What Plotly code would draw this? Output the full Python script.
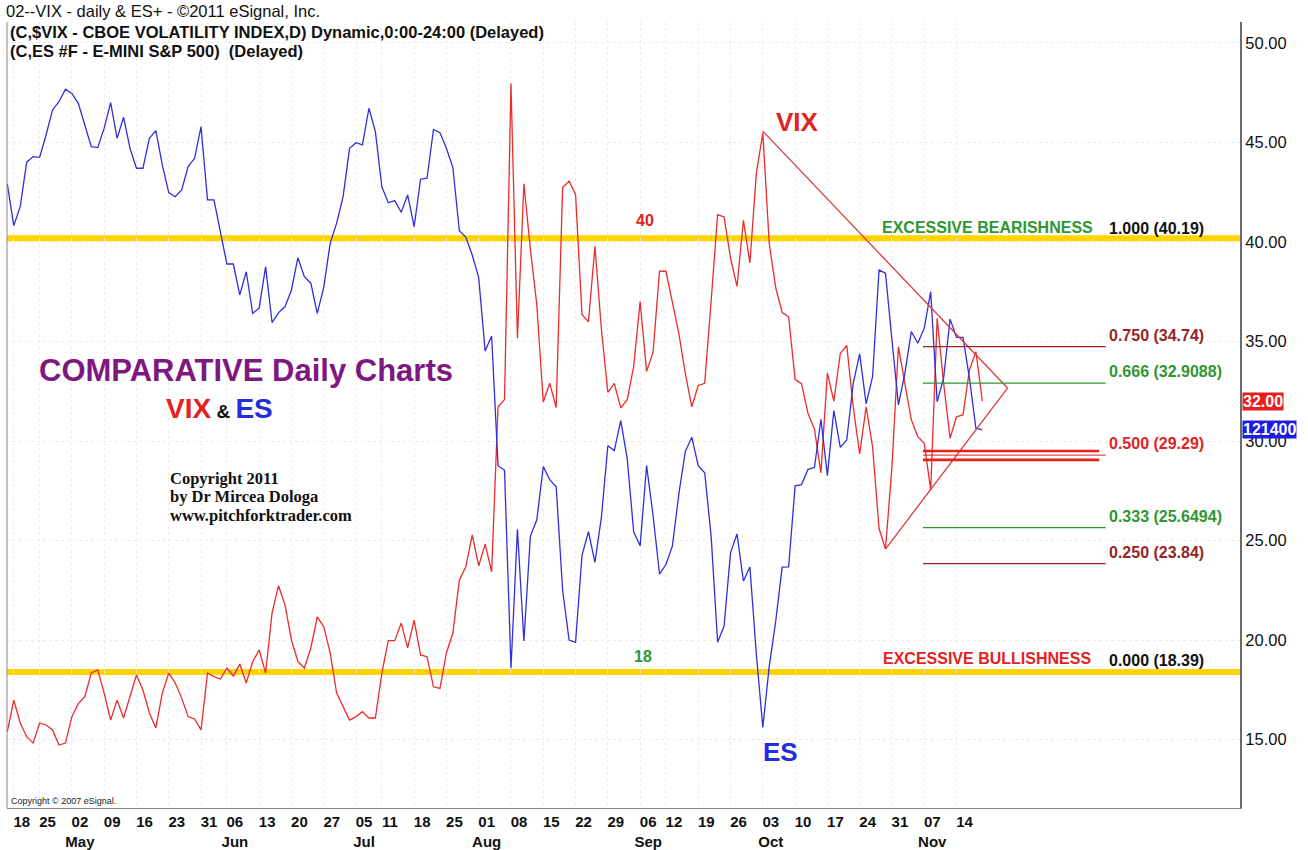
import pandas as pd
import plotly.graph_objects as go

# ---------------- data ----------------
holidays = ["2011-04-22", "2011-05-30", "2011-07-04", "2011-09-05"]
dates = [d.strftime("%Y-%m-%d") for d in pd.bdate_range("2011-04-15", "2011-11-18")
         if d.strftime("%Y-%m-%d") not in holidays]

vix = [15.39, 16.98, 15.83, 15.14, 14.82, 15.83, 15.73, 15.48, 14.72, 14.82,
       16.15, 16.80, 17.15, 18.34, 18.50, 17.33, 15.98, 16.98, 16.08, 17.15,
       18.24, 17.49, 16.33, 15.58, 17.33, 18.34, 17.84, 17.08, 16.15, 16.03,
       15.48, 18.34, 18.16, 18.04, 18.59, 18.19, 18.79, 17.84, 18.91, 19.50,
       18.34, 21.36, 22.73, 21.76, 20.00, 18.91, 18.59, 19.60, 21.16, 20.67,
       19.35, 17.33, 16.65, 15.98, 16.15, 16.40, 16.08, 16.08, 18.34, 19.97,
       19.97, 20.85, 19.60, 21.00, 19.25, 19.16, 17.65, 17.57, 19.35, 20.35,
       23.00, 23.68, 25.28, 23.73, 24.82, 23.43, 31.72, 32.08, 47.96, 35.16,
       42.93, 39.66, 36.83, 31.96, 32.90, 31.68, 42.74, 43.06, 42.39, 36.35,
       35.99, 39.78, 35.63, 32.44, 32.90, 31.66, 32.08, 33.74, 37.01, 33.50,
       34.45, 38.53, 38.53, 36.93, 35.40, 33.38, 31.72, 32.79, 32.90, 37.05,
       41.37, 41.26, 39.19, 37.77, 41.09, 38.95, 43.46, 45.47, 39.90, 37.70,
       36.45, 36.24, 33.10, 32.87, 31.38, 30.60, 28.40, 33.42, 32.00, 34.40,
       34.80, 31.72, 29.35, 31.72, 29.70, 25.60, 24.57, 28.71, 34.74, 32.90,
       31.06, 30.22, 29.89, 27.54, 36.17, 32.90, 30.14, 31.22, 31.31, 33.57,
       34.49, 32.00]

es = [1315.2, 1298.1, 1305.9, 1324.2, 1326.5, 1326.2, 1335.4, 1345.7, 1349.1, 1354.2,
      1352.5, 1348.4, 1339.5, 1330.6, 1330.2, 1338.2, 1348.7, 1334.0, 1342.7, 1329.9,
      1321.7, 1321.7, 1334.0, 1337.2, 1323.1, 1311.7, 1310.0, 1312.8, 1322.4, 1325.8,
      1338.8, 1308.7, 1308.7, 1295.0, 1282.3, 1282.3, 1269.6, 1279.1, 1262.0, 1264.1,
      1281.2, 1258.2, 1262.3, 1264.7, 1271.6, 1284.9, 1277.1, 1274.4, 1262.0, 1272.7,
      1290.8, 1299.1, 1310.0, 1329.9, 1332.2, 1331.3, 1346.4, 1336.8, 1314.1, 1307.5,
      1308.4, 1303.6, 1310.7, 1297.7, 1317.2, 1317.6, 1337.7, 1336.3, 1329.9, 1322.0,
      1296.0, 1293.4, 1286.0, 1276.7, 1246.5, 1252.7, 1199.3, 1197.4, 1115.9, 1173.1,
      1127.2, 1170.2, 1177.0, 1198.9, 1193.5, 1190.6, 1147.9, 1127.5, 1126.6, 1162.4,
      1172.1, 1159.5, 1178.0, 1207.5, 1205.5, 1217.8, 1202.2, 1172.1, 1166.3, 1199.3,
      1178.9, 1154.7, 1158.6, 1166.3, 1187.7, 1205.2, 1211.0, 1199.3, 1196.4, 1170.2,
      1126.6, 1133.3, 1163.4, 1171.2, 1151.8, 1157.6, 1121.7, 1091.6, 1116.8, 1135.3,
      1157.5, 1157.6, 1191.0, 1191.5, 1197.8, 1198.5, 1218.4, 1195.2, 1222.0, 1206.8,
      1209.9, 1233.2, 1245.3, 1224.7, 1235.9, 1279.8, 1278.5, 1251.0, 1224.3, 1237.3,
      1254.5, 1249.7, 1255.9, 1270.9, 1225.6, 1235.3, 1259.6, 1252.1, 1252.1, 1235.3,
      1214.7, 1214.0]

assert len(dates) == len(vix) == len(es)

tick_dates = ["2011-04-18", "2011-04-25", "2011-05-02", "2011-05-09", "2011-05-16",
              "2011-05-23", "2011-05-31", "2011-06-06", "2011-06-13", "2011-06-20",
              "2011-06-27", "2011-07-05", "2011-07-11", "2011-07-18", "2011-07-25",
              "2011-08-01", "2011-08-08", "2011-08-15", "2011-08-22", "2011-08-29",
              "2011-09-06", "2011-09-12", "2011-09-19", "2011-09-26", "2011-10-03",
              "2011-10-10", "2011-10-17", "2011-10-24", "2011-10-31", "2011-11-07",
              "2011-11-14"]
tick_labels = ["18", "25", "02<br>May", "09", "16", "23", "31", "06<br>Jun", "13", "20",
               "27", "05<br>Jul", "11", "18", "25", "01<br>Aug", "08", "15", "22", "29",
               "06<br>Sep", "12", "19", "26", "03<br>Oct", "10", "17", "24", "31",
               "07<br>Nov", "14"]

# horizontal reference levels
extreme_levels = [40.19, 18.39]
fib_levels = [(0.750, 34.74), (0.666, 32.9088), (0.500, 29.29), (0.333, 25.6494), (0.250, 23.84)]
fib_colors = {0.750: "#962626", 0.666: "#2f9632", 0.500: "#e3221e", 0.333: "#2f9632", 0.250: "#962626"}
fib_label_fmt = {0.750: "0.750 (34.74)", 0.666: "0.666 (32.9088)", 0.500: "0.500 (29.29)",
                 0.333: "0.333 (25.6494)", 0.250: "0.250 (23.84)"}
half_band = [29.50, 29.29, 29.05]

# triangle (symmetrical) drawn on VIX
tri_peak_i = vix.index(max(vix[100:]))
tri_low_i = 136
tri_apex = (154.9, 32.66)
fib_x0, fib_x1 = 141.8, 170.1

VIX_C = "#ec2b2b"
ES_C = "#2f2fdc"
FONT = "Arial, Liberation Sans, sans-serif"

fig = go.Figure()
fig.add_trace(go.Scatter(x=dates, y=vix, mode="lines", line=dict(color=VIX_C, width=1.3),
                         name="VIX", yaxis="y"))
fig.add_trace(go.Scatter(x=dates, y=es, mode="lines", line=dict(color=ES_C, width=1.3),
                         name="ES", yaxis="y2"))

shapes = []
for lv in extreme_levels:
    shapes.append(dict(type="line", xref="paper", x0=0, x1=1, yref="y", y0=lv, y1=lv,
                       line=dict(color="#FFD400", width=6), layer="below"))
# triangle
tri_col = "#d83a3a"
shapes.append(dict(type="line", xref="x", yref="y", x0=tri_peak_i, y0=vix[tri_peak_i] + 0.1,
                   x1=tri_apex[0], y1=tri_apex[1], line=dict(color=tri_col, width=1.3)))
shapes.append(dict(type="line", xref="x", yref="y", x0=tri_low_i, y0=vix[tri_low_i],
                   x1=tri_apex[0], y1=tri_apex[1], line=dict(color=tri_col, width=1.3)))
# fib lines
for r, lv in fib_levels:
    if r == 0.500:
        for k, b in enumerate(half_band):
            shapes.append(dict(type="line", xref="x", yref="y", x0=fib_x0,
                               x1=fib_x1 if k == 1 else fib_x1 - 1.0, y0=b, y1=b,
                               line=dict(color=fib_colors[r], width=1 if k == 1 else 2.6)))
    else:
        shapes.append(dict(type="line", xref="x", yref="y", x0=fib_x0, x1=fib_x1, y0=lv, y1=lv,
                           line=dict(color=fib_colors[r], width=1.4)))
# left border
shapes.append(dict(type="line", xref="paper", yref="paper", x0=0, x1=0, y0=0, y1=1,
                   line=dict(color="#8a8a8a", width=1)))

ann = []
def A(text, x, y, size, color, bold=True, xanchor="center", xref="x", yref="y", family=FONT, **kw):
    t = f"<b>{text}</b>" if bold else text
    ann.append(dict(text=t, x=x, y=y, xref=xref, yref=yref, showarrow=False,
                    font=dict(size=size, color=color, family=family), xanchor=xanchor,
                    yanchor="middle", **kw))

# header
A("02--VIX - daily &amp; ES+ - ©2011 eSignal, Inc.", -0.0028, 1.0138, 16.5, "#111", bold=False,
  xanchor="left", xref="paper", yref="paper")
A("(C,$VIX - CBOE VOLATILITY INDEX,D) Dynamic,0:00-24:00 (Delayed)", 0.0012, 0.9868, 16.5, "#111",
  xanchor="left", xref="paper", yref="paper")
A("(C,ES #F - E-MINI S&amp;P 500)  (Delayed)", 0.0012, 0.9625, 16.5, "#111",
  xanchor="left", xref="paper", yref="paper")
A("Copyright © 2007 eSignal.", 0.002, 0.009, 9, "#222", bold=False, xanchor="left",
  xref="paper", yref="paper")

# titles
A("COMPARATIVE Daily Charts", 37.0, 33.55, 31, "#7e1780")
ann.append(dict(text="<b><span style='color:#e3221e'>VIX</span>"
                     "<span style='font-size:19px;color:#111'> &amp; </span>"
                     "<span style='color:#1f2ee0'>ES</span></b>",
                x=32.8, y=31.65, xref="x", yref="y", showarrow=False,
                font=dict(size=28, family=FONT), xanchor="center", yanchor="middle"))
copy_lines = ["Copyright 2011", "by Dr Mircea Dologa", "www.pitchforktrader.com"]
copy_y = [28.12, 27.22, 26.26]
for line, yy in zip(copy_lines, copy_y):
    A(line, 24.9, yy, 16.5, "#111", xanchor="left",
      family="Liberation Serif, Times New Roman, serif")

A("40", 98.8, 41.1, 16, "#e3221e")
A("18", 98.4, 19.15, 16, "#2f9632")
A("VIX", 122.3, 46.05, 26, "#e3221e")
A("ES", 119.8, 14.35, 26, "#1f2ee0")

A("EXCESSIVE BEARISHNESS", 168.4, 40.72, 16, "#2f9632", xanchor="right")
A("1.000 (40.19)", 170.3, 40.67, 16, "#111", xanchor="left")
A("EXCESSIVE BULLISHNESS", 168.2, 19.05, 16, "#e3221e", xanchor="right")
A("0.000 (18.39)", 170.3, 18.95, 16, "#111", xanchor="left")
for r, lv in fib_levels:
    A(fib_label_fmt[r], 170.3, lv + 0.57, 16, fib_colors[r], xanchor="left")

# last value tags on price scale
ann.append(dict(text=f"<b>{vix[-1]:.2f}</b>", x=1, xref="paper", y=vix[-1], yref="y",
                xanchor="left", yanchor="middle", xshift=2, showarrow=False, bgcolor="#ea1c1c",
                borderpad=0, font=dict(size=16, color="white", family=FONT)))
ann.append(dict(text=f"<b>{es[-1] * 100:.0f}</b>", x=1, xref="paper", y=es[-1], yref="y2",
                xanchor="left", yanchor="middle", xshift=2, showarrow=False, bgcolor="#1c1ce6",
                borderpad=0, font=dict(size=16, color="white", family=FONT)))

fig.update_layout(
    width=1308, height=850,
    margin=dict(l=7, r=68, t=22, b=42, autoexpand=False),
    paper_bgcolor="white", plot_bgcolor="white",
    showlegend=False,
    shapes=shapes, annotations=ann,
    font=dict(family=FONT, color="#111"),
    xaxis=dict(type="category", range=[-0.05, 190.9], tickmode="array",
               tickvals=tick_dates, ticktext=[f"<b>{t}</b>" for t in tick_labels],
               tickfont=dict(size=15, color="#111"), ticklabelshift=8, tickangle=0,
               automargin=False,
               showgrid=True, gridcolor="#ececec", griddash="dot",
               showline=True, linecolor="#8a8a8a", linewidth=1, ticks="", zeroline=False),
    yaxis=dict(side="right", range=[11.558, 51.055], tickmode="linear", tick0=0, dtick=5,
               tickformat=".2f", tickfont=dict(size=16.5, color="#111"), automargin=False,
               showgrid=True, gridcolor="#ececec", griddash="dot",
               showline=True, linecolor="#6a6a6a", linewidth=2, ticks="", zeroline=False),
    yaxis2=dict(overlaying="y", range=[1058.4, 1381.9], visible=False),
)

fig.write_html("out.html", config={"displayModeBar": False},
               post_script="document.body.style.margin='0px';")
